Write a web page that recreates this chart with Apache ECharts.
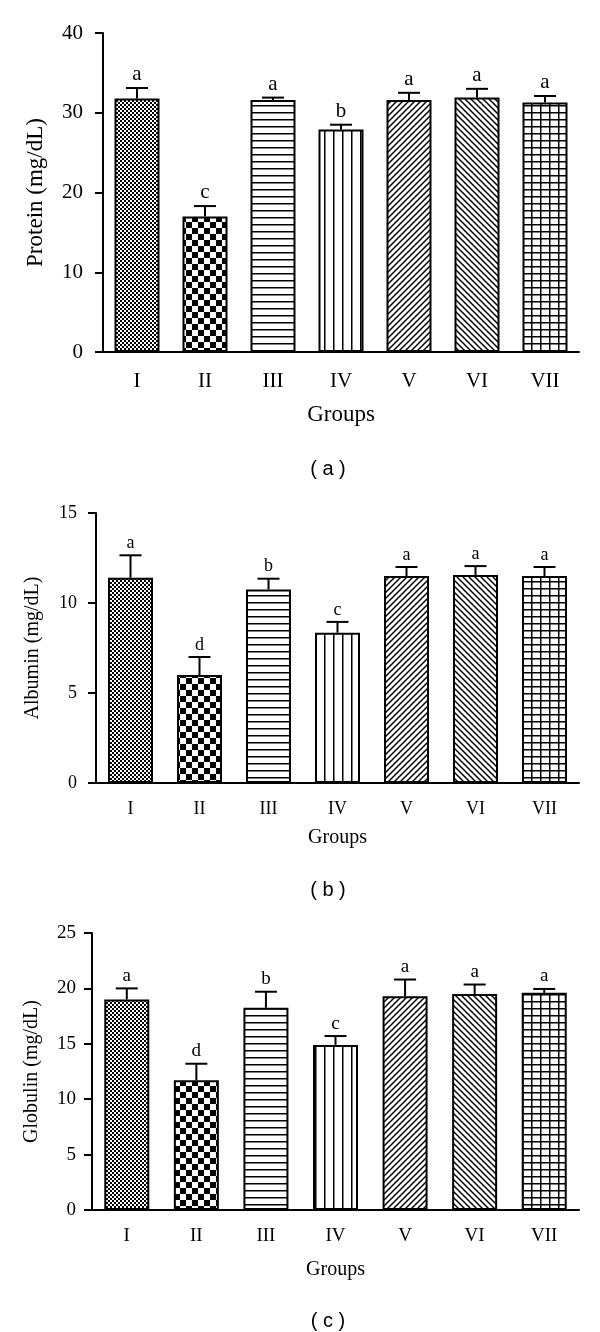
<!DOCTYPE html>
<html>
<head>
<meta charset="utf-8">
<script src="https://cdn.jsdelivr.net/npm/echarts@6/dist/echarts.min.js"></script>
<style>
  html, body { margin: 0; padding: 0; background: #fff; }
  #main { width: 600px; height: 1332px; }
</style>
</head>
<body>
<div id="main"></div>
<script type="text/javascript">
// data
var groups = ['I', 'II', 'III', 'IV', 'V', 'VI', 'VII'];

var proteinMean = [31.8, 17.0, 31.6, 27.9, 31.6, 31.9, 31.3];
var proteinErr = [1.3, 1.3, 0.3, 0.6, 0.9, 1.1, 0.8];
var proteinLetters = ['a', 'c', 'a', 'b', 'a', 'a', 'a'];

var albuminMean = [11.4, 6.0, 10.75, 8.35, 11.5, 11.55, 11.5];
var albuminErr = [1.25, 1.0, 0.6, 0.6, 0.5, 0.5, 0.5];
var albuminLetters = ['a', 'd', 'b', 'c', 'a', 'a', 'a'];

var globulinMean = [19.0, 11.7, 18.25, 14.9, 19.3, 19.5, 19.6];
var globulinErr = [1.0, 1.5, 1.45, 0.8, 1.5, 0.85, 0.35];
var globulinLetters = ['a', 'd', 'b', 'c', 'a', 'a', 'a'];

var serif = '"Liberation Serif", "DejaVu Serif", serif';

// hatch fills for the seven groups
function makePattern(w, h, draw) {
    var c = document.createElement('canvas');
    c.width = w; c.height = h;
    var ctx = c.getContext('2d');
    ctx.fillStyle = '#fff';
    ctx.fillRect(0, 0, w, h);
    ctx.fillStyle = '#000';
    ctx.strokeStyle = '#000';
    draw(ctx, w, h);
    return { image: c, repeat: 'repeat' };
}
var fills = [
    makePattern(4, 4, function (ctx) { ctx.fillRect(0, 0, 2, 2); ctx.fillRect(2, 2, 2, 2); }),
    makePattern(12, 12, function (ctx) { ctx.fillRect(0, 0, 6, 6); ctx.fillRect(6, 6, 6, 6); }),
    makePattern(4, 7, function (ctx) { ctx.fillRect(0, 0, 4, 1.5); }),
    makePattern(9, 4, function (ctx) { ctx.fillRect(0, 0, 1.5, 4); }),
    makePattern(6, 6, function (ctx) {
        ctx.lineWidth = 1.5;
        ctx.beginPath();
        ctx.moveTo(0, 6); ctx.lineTo(6, 0);
        ctx.moveTo(-1, 1); ctx.lineTo(1, -1);
        ctx.moveTo(5, 7); ctx.lineTo(7, 5);
        ctx.stroke();
    }),
    makePattern(6, 6, function (ctx) {
        ctx.lineWidth = 1.5;
        ctx.beginPath();
        ctx.moveTo(0, 0); ctx.lineTo(6, 6);
        ctx.moveTo(5, -1); ctx.lineTo(7, 1);
        ctx.moveTo(-1, 5); ctx.lineTo(1, 7);
        ctx.stroke();
    }),
    makePattern(9, 7, function (ctx) { ctx.fillRect(0, 0, 1.5, 7); ctx.fillRect(0, 0, 9, 1.5); })
];

var panels = [
    { name: 'Protein (mg/dL)', mean: proteinMean, err: proteinErr, letters: proteinLetters,
      grid: { left: 103, top: 33, width: 476, height: 319 }, max: 40, interval: 10,
      tick: 21, title: 23, xMargin: 19, xGap: 51, yGap: 56, yMargin: 20 },
    { name: 'Albumin (mg/dL)', mean: albuminMean, err: albuminErr, letters: albuminLetters,
      grid: { left: 96, top: 513, width: 483, height: 270 }, max: 15, interval: 5,
      tick: 18, title: 20, xMargin: 17, xGap: 45, yGap: 53, yMargin: 19 },
    { name: 'Globulin (mg/dL)', mean: globulinMean, err: globulinErr, letters: globulinLetters,
      grid: { left: 92, top: 933, width: 487, height: 277 }, max: 25, interval: 5,
      tick: 19, title: 20, xMargin: 17, xGap: 50, yGap: 50, yMargin: 16 }
];

var grids = [], xAxes = [], yAxes = [], series = [];
panels.forEach(function (p, i) {
    grids.push(p.grid);
    xAxes.push({
        type: 'category', gridIndex: i, data: groups,
        name: 'Groups', nameLocation: 'middle', nameGap: p.xGap,
        nameTextStyle: { fontFamily: serif, fontSize: p.title, color: '#000' },
        axisLine: { lineStyle: { color: '#000', width: 2 } },
        axisTick: { alignWithLabel: true, length: 7, lineStyle: { color: '#000', width: 2 } },
        axisLabel: { fontFamily: serif, fontSize: p.tick, color: '#000', margin: p.xMargin }
    });
    yAxes.push({
        type: 'value', gridIndex: i, min: 0, max: p.max, interval: p.interval,
        name: p.name, nameLocation: 'middle', nameGap: p.yGap,
        nameTextStyle: { fontFamily: serif, fontSize: p.title, color: '#000' },
        splitLine: { show: false },
        axisLine: { show: true, lineStyle: { color: '#000', width: 2 } },
        axisTick: { show: true, length: 8, lineStyle: { color: '#000', width: 2 } },
        axisLabel: { fontFamily: serif, fontSize: p.tick, color: '#000', margin: p.yMargin }
    });
    series.push({
        type: 'bar', xAxisIndex: i, yAxisIndex: i, barWidth: 45,
        data: p.mean.map(function (v, k) {
            return { value: v, itemStyle: { color: fills[k], borderColor: '#000', borderWidth: 2 } };
        })
    });
    series.push({
        type: 'custom', xAxisIndex: i, yAxisIndex: i, z: 5,
        data: p.mean.map(function (v, k) { return [k, v, p.err[k]]; }),
        renderItem: function (params, api) {
            var m = api.value(1);
            var p0 = api.coord([api.value(0), m]);
            var p1 = api.coord([api.value(0), m + api.value(2)]);
            var ls = { stroke: '#000', lineWidth: 2 };
            return {
                type: 'group',
                children: [
                    { type: 'line', shape: { x1: p0[0], y1: p0[1], x2: p1[0], y2: p1[1] }, style: ls },
                    { type: 'line', shape: { x1: p1[0] - 11, y1: p1[1], x2: p1[0] + 11, y2: p1[1] }, style: ls },
                    { type: 'text', style: {
                        text: p.letters[params.dataIndex], x: p1[0], y: p1[1] - 3,
                        textAlign: 'center', textVerticalAlign: 'bottom',
                        align: 'center', verticalAlign: 'bottom',
                        font: p.tick + 'px ' + serif, fill: '#000' } }
                ]
            };
        }
    });
});

var captionStyle = { fontFamily: '"Liberation Sans", Arial, sans-serif', fontSize: 20, fontWeight: 'normal', color: '#000' };
var option = {
    animation: false,
    title: [
        { text: '( a )', left: 323, top: 454, textAlign: 'center', textStyle: captionStyle },
        { text: '( b )', left: 323, top: 875, textAlign: 'center', textStyle: captionStyle },
        { text: '( c )', left: 323, top: 1306, textAlign: 'center', textStyle: captionStyle }
    ],
    grid: grids,
    xAxis: xAxes,
    yAxis: yAxes,
    series: series
};
var chart = echarts.init(document.getElementById('main'));
chart.setOption(option);
</script>
</body>
</html>
